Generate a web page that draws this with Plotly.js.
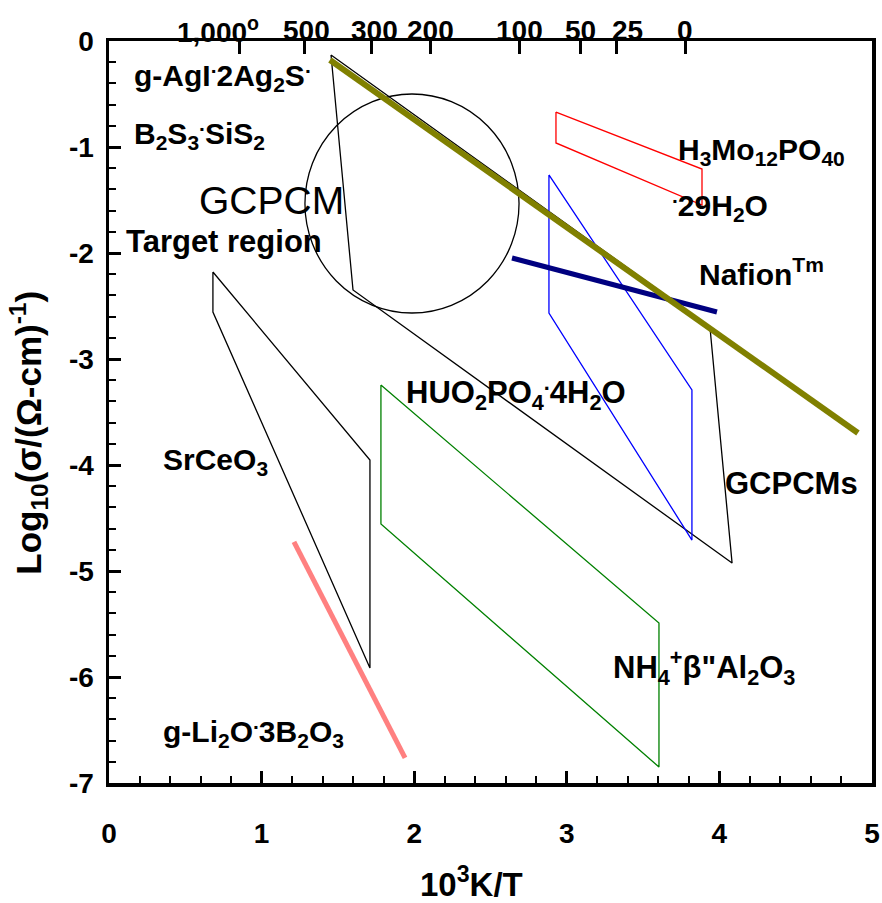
<!DOCTYPE html>
<html><head><meta charset="utf-8">
<script src="https://cdn.plot.ly/plotly-3.0.1.min.js"></script>
<style>html,body{margin:0;padding:0;background:#fff}#chart{width:882px;height:903px}</style>
</head><body><div id="chart"></div>
<script>
// ---- data (x = 10^3 K/T, y = log10 conductivity) ----
const gcpcmLineX = [1.448, 4.908];
const gcpcmLineY = [-0.179, -3.698];
const nafionX = [2.641, 3.984];
const nafionY = [-2.047, -2.557];
const li2oX = [1.212, 1.940];
const li2oY = [-4.726, -6.764];
const h3moX = [2.929, 3.886, 3.886, 2.929, 2.929];
const h3moY = [-0.670, -1.208, -1.547, -0.962, -0.670];
const nafionBoxX = [2.883, 3.820, 3.820, 2.883, 2.883];
const nafionBoxY = [-1.264, -3.292, -4.708, -2.566, -1.264];
const nh4X = [1.782, 3.604, 3.604, 1.782, 1.782];
const nh4Y = [-3.245, -5.491, -6.849, -4.557, -3.245];
const srceX = [0.681, 1.710, 1.710, 0.681, 0.681];
const srceY = [-2.179, -3.953, -5.915, -2.557, -2.179];
const gcpcmsX = [1.455, 3.938, 4.083, 1.599, 1.455];
const gcpcmsY = [-0.132, -2.698, -4.925, -2.349, -0.132];
const targetCircleX = [1.284, 2.687];
const targetCircleY = [-0.50, -2.566];
const topTickX = [0.852, 1.284, 1.723, 2.104, 2.687, 3.093, 3.326, 3.775];
const topLabelX = [0.714, 1.291, 1.737, 2.110, 2.687, 3.093, 3.401, 3.775];
const topTickLabels = ['1,000<sup>o</sup>', '500', '300', '200', '100', '50', '25', '0'];
const xTickVals = [0, 1, 2, 3, 4, 5];
const yTickVals = [0, -1, -2, -3, -4, -5, -6, -7];

const FONT = 'Liberation Sans, Arial, sans-serif';

function line(x, y, color, width, xa) {
  return {x: x, y: y, mode: 'lines', type: 'scatter', xaxis: xa || 'x', yaxis: 'y',
          line: {color: color, width: width}, hoverinfo: 'skip', showlegend: false};
}

const traces = [
  line(gcpcmsX, gcpcmsY, '#000000', 1.3),
  line(srceX, srceY, '#000000', 1.3),
  line(nh4X, nh4Y, '#008000', 1.3),
  line(nafionBoxX, nafionBoxY, '#0000ff', 1.3),
  line(h3moX, h3moY, '#ff0000', 1.3),
  line(li2oX, li2oY, '#ff8080', 5),
  line(nafionX, nafionY, '#000080', 5),
  line(gcpcmLineX, gcpcmLineY, '#808000', 6),
  {x: [0, 5], y: [null, null], mode: 'lines', xaxis: 'x2', yaxis: 'y', showlegend: false, hoverinfo: 'skip'}
];

function lab(x, y, text, size, bold) {
  return {x: x, y: y, xref: 'x', yref: 'y', text: bold === false ? text : '<b>' + text + '</b>',
          showarrow: false, xanchor: 'left', yanchor: 'middle', xshift: -3,
          font: {family: FONT, size: size, color: '#000'}};
}

const annotations = [
  lab(0.170, -0.321, 'g-AgI<sup>.</sup>2Ag<sub>2</sub>S<sup>.</sup>', 30),
  lab(0.170, -0.868, 'B<sub>2</sub>S<sub>3</sub><sup>.</sup>SiS<sub>2</sub>', 30),
  lab(0.596, -1.500, 'GCPCM', 39, false),
  lab(0.118, -1.896, 'Target region', 31),
  lab(3.735, -1.047, 'H<sub>3</sub>Mo<sub>12</sub>PO<sub>40</sub>', 30),
  lab(3.696, -1.547, '<sup>.</sup>29H<sub>2</sub>O', 30),
  lab(3.873, -2.179, 'Nafion<sup>Tm</sup>', 30),
  lab(1.953, -3.320, 'HUO<sub>2</sub>PO<sub>4</sub><sup>.</sup>4H<sub>2</sub>O', 31),
  lab(0.360, -3.970, 'SrCeO<sub>3</sub>', 30),
  lab(4.044, -4.170, 'GCPCMs', 31),
  lab(3.310, -5.906, 'NH<sub>4</sub><sup>+</sup>β"Al<sub>2</sub>O<sub>3</sub>', 31),
  lab(0.360, -6.509, 'g-Li<sub>2</sub>O<sup>.</sup>3B<sub>2</sub>O<sub>3</sub>', 30)
];
topTickLabels.forEach(function (t, i) {
  annotations.push({x: topLabelX[i], y: 1, xref: 'x', yref: 'paper', text: '<b>' + t + '</b>',
    showarrow: false, xanchor: 'center', yanchor: 'middle', yshift: 11,
    font: {family: FONT, size: 28, color: '#000'}});
});
// axis titles
annotations.push({x: 0.4745, y: -0.1334, xref: 'paper', yref: 'paper', showarrow: false,
  xanchor: 'center', yanchor: 'middle', text: '<b>10<sup>3</sup>K/T</b>',
  font: {family: FONT, size: 33, color: '#000'}});
annotations.push({x: -0.105, y: 0.472, xref: 'paper', yref: 'paper', showarrow: false,
  xanchor: 'center', yanchor: 'middle', textangle: -90,
  text: '<b>Log<sub>10</sub>(σ/(Ω-cm)<sup>-1</sup>)</b>',
  font: {family: FONT, size: 35, color: '#000'}});

const layout = {
  width: 882, height: 903,
  margin: {l: 109, r: 10, t: 41, b: 120, pad: 0},
  paper_bgcolor: '#fff', plot_bgcolor: '#fff',
  font: {family: FONT, color: '#000'},
  showlegend: false,
  xaxis: {
    range: [0, 5], tickvals: xTickVals, ticktext: xTickVals.map(String),
    ticks: 'inside', ticklen: 12, tickwidth: 3, tickcolor: '#000',
    minor: {dtick: 0.2, tick0: 0, ticks: 'inside', ticklen: 7, tickwidth: 2, tickcolor: '#000'},
    showline: true, linewidth: 3.5, linecolor: '#000', mirror: true,
    showgrid: false, zeroline: false, ticklabelstandoff: 23,
    tickfont: {family: FONT, size: 28, color: '#000', weight: 'bold'}
  },
  xaxis2: {
    overlaying: 'x', side: 'top', range: [0, 5], tickvals: topTickX,
    showticklabels: false, ticks: 'inside', ticklen: 13, tickwidth: 3, tickcolor: '#000',
    showline: false, showgrid: false, zeroline: false
  },
  yaxis: {
    range: [-7, 0], tickvals: yTickVals, ticktext: yTickVals.map(String),
    ticks: 'inside', ticklen: 12, tickwidth: 3, tickcolor: '#000',
    minor: {dtick: 0.2, tick0: 0, ticks: 'inside', ticklen: 7, tickwidth: 2, tickcolor: '#000'},
    showline: true, linewidth: 3.5, linecolor: '#000', mirror: true,
    showgrid: false, zeroline: false, ticklabelstandoff: 6,
    tickfont: {family: FONT, size: 28, color: '#000', weight: 'bold'}
  },
  shapes: [{
    type: 'circle', xref: 'x', yref: 'y',
    x0: targetCircleX[0], x1: targetCircleX[1], y0: targetCircleY[0], y1: targetCircleY[1],
    line: {color: '#000', width: 1.3}, fillcolor: 'rgba(0,0,0,0)', layer: 'below'
  }],
  annotations: annotations
};

Plotly.newPlot('chart', traces, layout, {displayModeBar: false, staticPlot: true});
</script>
</body></html>
